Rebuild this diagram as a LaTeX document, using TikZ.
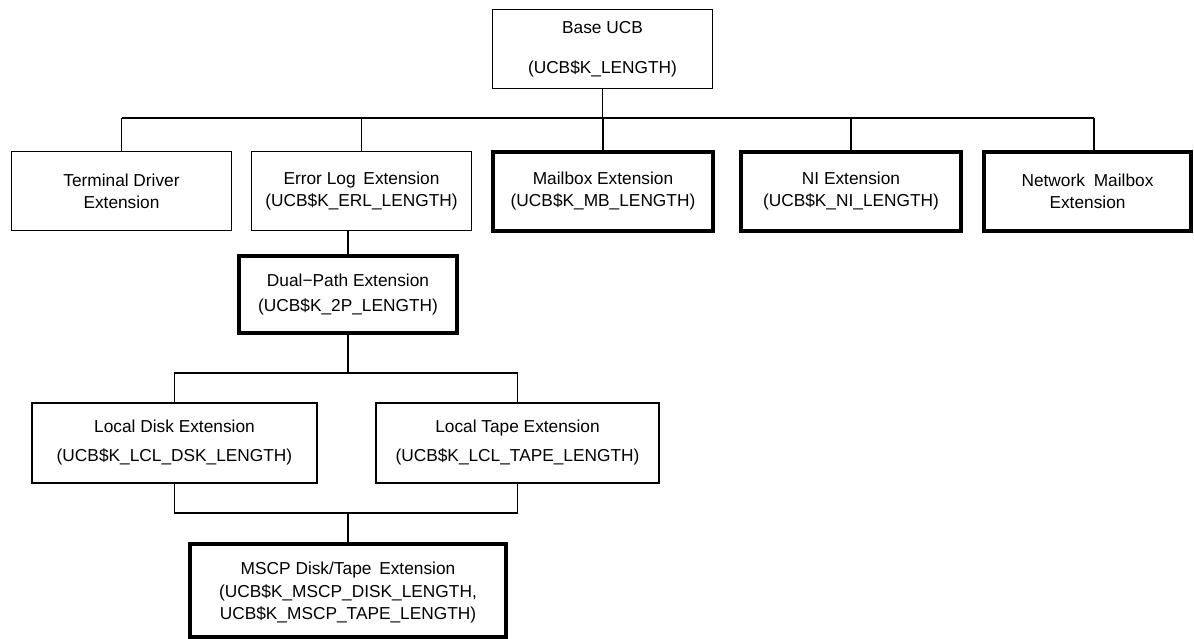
\documentclass[tikz,border=0pt]{standalone}
\usepackage{fontspec}
\setmainfont{Liberation Sans}
\begin{document}
\begin{tikzpicture}[x=1pt,y=-1pt,
  box/.style={draw=black,line width=1.3pt,fill=white,align=center,inner sep=0pt,
    font=\fontsize{17.3}{22}\selectfont},
  thickbox/.style={box,line width=4pt},
  wire/.style={draw=black,line width=1.3pt}]
\useasboundingbox (0,0) rectangle (1194,639);
\fill[white] (0,0) rectangle (1194,639);
% nodes
\node[box,minimum width=220pt,minimum height=79pt] (base) at (602.5,49)
  {Base UCB\\[18pt](UCB\$K\_LENGTH)};
\node[box,minimum width=220pt,minimum height=79pt] (term) at (121.5,191)
  {Terminal Driver\\Extension};
\node[box,minimum width=220pt,minimum height=79pt] (err) at (361.5,191)
  {Error Log\hspace{3pt} Extension\\(UCB\$K\_ERL\_LENGTH)};
\node[thickbox,minimum width=220pt,minimum height=79pt] (mb) at (603,191.5)
  {Mailbox Extension\\(UCB\$K\_MB\_LENGTH)};
\node[thickbox,minimum width=220pt,minimum height=79pt] (ni) at (851,191.5)
  {NI Extension\\(UCB\$K\_NI\_LENGTH)};
\node[thickbox,minimum width=207pt,minimum height=79pt] (net) at (1087.5,191.5)
  {Network\hspace{4pt} Mailbox\\Extension};
\node[thickbox,minimum width=218pt,minimum height=77pt] (dual) at (348,294.5)
  {Dual−Path Extension\\[3pt](UCB\$K\_2P\_LENGTH)};
\node[box,minimum width=285pt,minimum height=80pt] (disk) at (174.5,443)
  {Local Disk Extension\\[7pt](UCB\$K\_LCL\_DSK\_LENGTH)};
\node[box,minimum width=283pt,minimum height=80pt] (tape) at (517.5,443)
  {Local Tape Extension\\[7pt](UCB\$K\_LCL\_TAPE\_LENGTH)};
\node[thickbox,minimum width=316pt,minimum height=93pt,text depth=-4pt] (mscp) at (348,590.5)
  {MSCP Disk/Tape\hspace{3pt} Extension\\[1.5pt](UCB\$K\_MSCP\_DISK\_LENGTH,\\UCB\$K\_MSCP\_TAPE\_LENGTH)};
% top bus
\coordinate (hL) at (121.5,118);
\coordinate (hR) at (1094,118);
\draw[wire] (hL) -- (hR);
\draw[wire] (base.south) -- (base.south |- hL);
\draw[wire] (term.north) -- (term.north |- hL);
\draw[wire] (err.north) -- (err.north |- hL);
\draw[wire] (mb.north) -- (mb.north |- hL);
\draw[wire] (ni.north) -- (ni.north |- hL);
\draw[wire] (hR) -- (hR |- net.north);
% error log to dual path
\draw[wire] (dual.north) -- (dual.north |- err.south);
% dual path to local
\coordinate (m1) at (348,373);
\draw[wire] (dual.south) -- (m1);
\draw[wire] (disk.north) |- (m1) -| (tape.north);
% local to mscp
\coordinate (m2) at (348,513);
\draw[wire] (disk.south) |- (m2) -| (tape.south);
\draw[wire] (m2) -- (mscp.north);
\end{tikzpicture}
\end{document}
